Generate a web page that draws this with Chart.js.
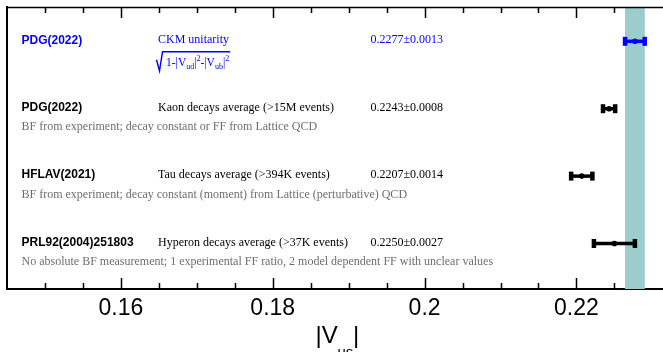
<!DOCTYPE html>
<html><head><meta charset="utf-8">
<script src="https://cdn.jsdelivr.net/npm/chart.js@4/dist/chart.umd.min.js"></script>
<style>html,body{margin:0;padding:0;background:#fff;overflow:hidden}#wrap{width:663px;height:352px;position:relative}</style>
</head><body><div id="wrap"><canvas id="c" width="663" height="352"></canvas></div>
<script>
// ---- data ----
const sources = ['PDG(2022)', 'PDG(2022)', 'HFLAV(2021)', 'PRL92(2004)251803'];
const methods = ['CKM unitarity', 'Kaon decays average (>15M events)', 'Tau decays average (>394K events)', 'Hyperon decays average (>37K events)'];
const notes = ['', 'BF from experiment; decay constant or FF from Lattice QCD', 'BF from experiment; decay constant (moment) from Lattice (perturbative) QCD', 'No absolute BF measurement; 1 experimental FF ratio, 2 model dependent FF with unclear values'];
const values = [0.2277, 0.2243, 0.2207, 0.2250];
const errors = [0.0013, 0.0008, 0.0014, 0.0027];
const valueLabels = ['0.2277\u00b10.0013', '0.2243\u00b10.0008', '0.2207\u00b10.0014', '0.2250\u00b10.0027'];
const rowIndex = [0, 1, 2, 3];
const xMajorTicks = [0.16, 0.18, 0.2, 0.22];
const xTickLabels = ['0.16', '0.18', '0.2', '0.22'];

// ---- styles ----
const rowColors = ['#0000ff', '#000000', '#000000', '#000000'];
const bandColor = '#9ccccc';
const SANS = '"Liberation Sans", Arial, sans-serif';
const SERIF = '"Liberation Serif", "Times New Roman", serif';

const datasets = [];
rowIndex.forEach((r, i) => {
  datasets.push({
    type: 'line',
    data: [{x: values[i] - errors[i], y: r}, {x: values[i] + errors[i], y: r}],
    borderColor: rowColors[i], borderWidth: 3.5,
    pointStyle: 'line', rotation: 90, pointRadius: 4.5, pointBorderWidth: 4.5,
    pointBorderColor: rowColors[i], pointBackgroundColor: rowColors[i],
    showLine: true, fill: false
  });
});
datasets.push({
  type: 'scatter',
  data: values.map((v, i) => ({x: v, y: rowIndex[i]})),
  pointBackgroundColor: rowColors, pointBorderColor: rowColors,
  pointRadius: 2.8, pointBorderWidth: 0
});

const bandPlugin = {
  id: 'band',
  beforeDatasetsDraw(chart) {
    const {ctx, chartArea: a, scales: {x}} = chart;
    const x1 = x.getPixelForValue(values[0] - errors[0]);
    const x2 = x.getPixelForValue(values[0] + errors[0]);
    ctx.save();
    ctx.fillStyle = bandColor;
    ctx.fillRect(x1, a.top, x2 - x1, a.bottom - a.top);
    ctx.restore();
  }
};

function isMultiple(v, step) { return Math.abs(Math.round(v / step) * step - v) < 1e-9; }

const framePlugin = {
  id: 'frame',
  afterDraw(chart) {
    const {ctx, chartArea: a, scales: {x}} = chart;
    ctx.save();
    ctx.strokeStyle = '#000';
    ctx.lineWidth = 1.5;
    ctx.beginPath();
    ctx.moveTo(a.left - 1, a.top + 0.5);
    ctx.lineTo(a.right, a.top + 0.5);
    ctx.stroke();
    x.ticks.forEach(t => {
      if (!isMultiple(t.value, 0.005)) return;
      const major = isMultiple(t.value, 0.02);
      const len = major ? 11 : 6;
      const px = Math.round(x.getPixelForValue(t.value)) + 0.5;
      if (px <= a.left + 2 || px >= a.right) return;
      ctx.beginPath();
      ctx.moveTo(px, a.top); ctx.lineTo(px, a.top + len);
      ctx.moveTo(px, a.bottom); ctx.lineTo(px, a.bottom - len);
      ctx.stroke();
    });
    // axis title |V_us|
    ctx.fillStyle = '#000';
    ctx.textBaseline = 'alphabetic';
    ctx.textAlign = 'left';
    ctx.font = '24px ' + SANS;
    ctx.fillText('|V', 315.5, 342.5);
    ctx.fillText('|', 353, 342.5);
    ctx.font = '15px ' + SANS;
    ctx.fillText('us', 337.5, 357);
    ctx.restore();
  }
};

const textPlugin = {
  id: 'rowText',
  afterDatasetsDraw(chart) {
    const {ctx, scales: {y}} = chart;
    ctx.save();
    ctx.textAlign = 'left';
    ctx.textBaseline = 'middle';
    rowIndex.forEach((r, i) => {
      const py = y.getPixelForValue(r);
      ctx.fillStyle = rowColors[i];
      ctx.font = 'bold 12px ' + SANS;
      ctx.fillText(sources[i], 21.5, py - 1);
      ctx.font = '12px ' + SERIF;
      ctx.fillText(methods[i], 158, py - 1);
      ctx.fillText(valueLabels[i], 370.5, py - 1);
      if (notes[i]) {
        ctx.fillStyle = '#6e6e6e';
        ctx.font = '12px ' + SERIF;
        ctx.fillText(notes[i], 21.5, py + 18.5);
      }
    });
    // radical expression under "CKM unitarity"
    const py0 = y.getPixelForValue(rowIndex[0]);
    const base = py0 + 24.5;
    ctx.fillStyle = rowColors[0];
    ctx.strokeStyle = rowColors[0];
    ctx.textBaseline = 'alphabetic';
    let cx = 166;
    const parts = [
      ['1-|V', 11.5, 0], ['ud', 8, 3.5], ['|', 11.5, 0], ['2', 8, -4.5],
      ['-|V', 11.5, 0], ['ub', 8, 3.5], ['|', 11.5, 0], ['2', 8, -4.5]
    ];
    parts.forEach(([t, s, dy]) => {
      ctx.font = s + 'px ' + SERIF;
      ctx.fillText(t, cx, base + dy);
      cx += ctx.measureText(t).width;
    });
    ctx.lineWidth = 1.4;
    ctx.beginPath();
    ctx.moveTo(156.5, base - 6);
    ctx.lineTo(159.5, base + 5);
    ctx.lineTo(162.5, base - 14);
    ctx.lineTo(cx + 1, base - 14);
    ctx.stroke();
    ctx.restore();
  }
};

new Chart(document.getElementById('c'), {
  data: {datasets},
  options: {
    responsive: false, animation: false, devicePixelRatio: 1,
    layout: {autoPadding: false, padding: {left: 7, top: 7, right: 0, bottom: 0}},
    plugins: {legend: {display: false}, tooltip: {enabled: false}},
    scales: {
      x: {
        type: 'linear', position: 'bottom', min: 0.145, max: 0.2314,
        border: {display: true, color: '#000', width: 2},
        grid: {display: false, drawTicks: false},
        ticks: {
          stepSize: 0.005, autoSkip: false, maxRotation: 0, color: '#000', padding: 6,
          font: {family: SANS, size: 23},
          callback: (v) => {
            const k = xMajorTicks.findIndex(m => Math.abs(m - v) < 1e-9);
            return k >= 0 ? xTickLabels[k] : '';
          }
        },
        afterFit: s => { s.height = 63; s.paddingLeft = 0; s.paddingRight = 0; }
      },
      y: {
        type: 'linear', reverse: true, min: -0.509, max: 3.675,
        border: {display: true, color: '#000', width: 2},
        grid: {display: false, drawTicks: false},
        ticks: {display: false},
        afterFit: s => { s.width = 0; s.paddingTop = 0; s.paddingBottom = 0; }
      }
    }
  },
  plugins: [bandPlugin, textPlugin, framePlugin]
});
</script>
</body></html>
